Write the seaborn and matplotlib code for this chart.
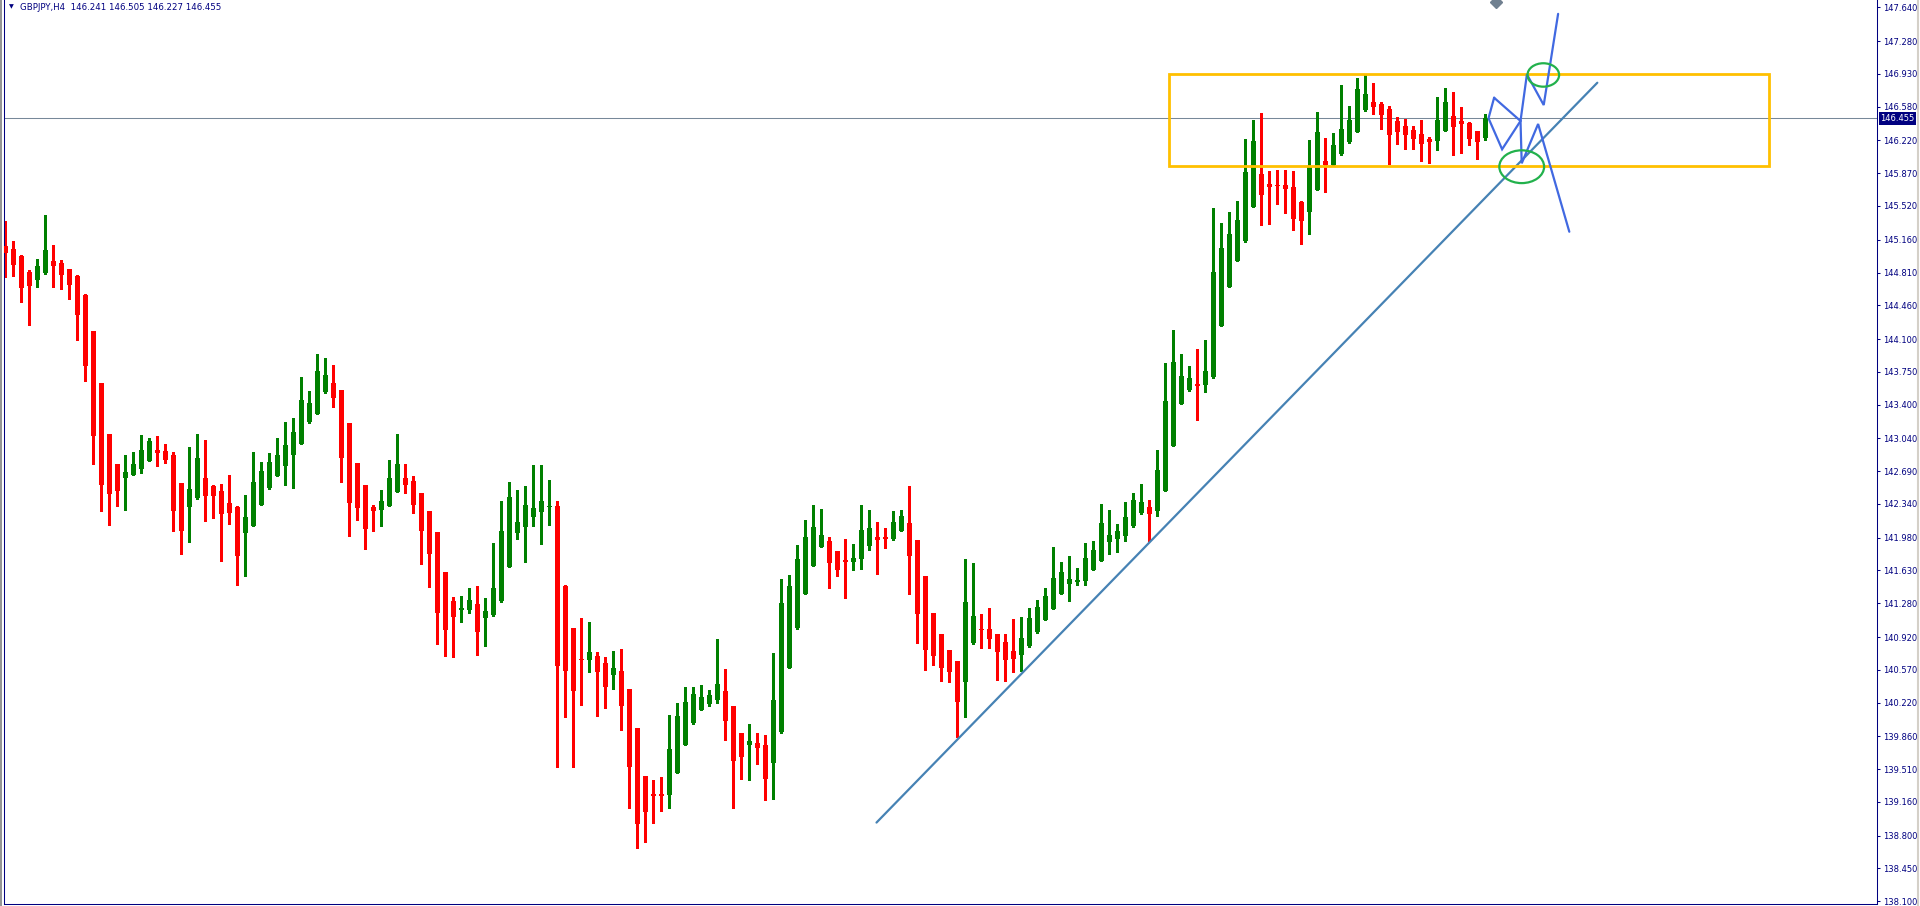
import matplotlib
matplotlib.use("Agg")
import matplotlib.pyplot as plt
import matplotlib.transforms as mtransforms
from matplotlib.lines import Line2D
from matplotlib.patches import Ellipse, Rectangle
import numpy as np
import seaborn as sns

# ---- data (GBPJPY, H4) ----
symbol = "GBPJPY,H4"

opens = [
    145.09, 145.06, 144.99, 144.82, 144.73, 144.80, 144.93, 144.91, 144.85, 144.77,
    144.57, 144.19, 143.63, 143.09, 142.77, 142.62, 142.65, 142.71, 142.80, 142.92,
    142.91, 142.86, 142.56, 142.31, 142.40, 142.62, 142.53, 142.48, 142.35, 142.31,
    142.03, 142.11, 142.33, 142.51, 142.64, 142.75, 142.86, 142.98, 143.21, 143.30,
    143.53, 143.63, 143.56, 143.20, 142.78, 142.54, 142.31, 142.28, 142.32, 142.47,
    142.62, 142.59, 142.46, 142.27, 142.04, 141.61, 141.30, 141.21, 141.21, 141.27,
    141.12, 141.15, 141.30, 141.67, 142.03, 142.09, 142.20, 142.25, 142.31, 142.32,
    141.46, 141.02, 140.69, 140.67, 140.72, 140.64, 140.51, 140.56, 140.37, 139.95,
    139.44, 139.24, 139.24, 139.23, 139.47, 139.77, 140.00, 140.14, 140.21, 140.25,
    140.34, 140.18, 139.90, 139.77, 139.79, 139.77, 139.58, 139.91, 140.59, 141.02,
    141.38, 141.68, 141.88, 141.94, 141.84, 141.74, 141.72, 141.75, 141.89, 141.99,
    141.99, 141.97, 142.05, 142.14, 141.96, 141.57, 141.18, 140.95, 140.78, 140.66,
    140.44, 140.86, 141.01, 141.01, 140.95, 140.87, 140.77, 140.73, 140.82, 140.97,
    141.10, 141.22, 141.38, 141.49, 141.51, 141.52, 141.64, 141.73, 141.93, 141.97,
    142.00, 142.10, 142.24, 142.31, 142.26, 142.48, 142.96, 143.41, 143.56, 143.62,
    143.61, 143.69, 144.24, 144.66, 144.93, 145.15, 145.51, 145.86, 145.75, 145.74,
    145.74, 145.72, 145.56, 145.46, 145.69, 146.00, 145.96, 146.07, 146.20, 146.31,
    146.54, 146.63, 146.61, 146.56, 146.43, 146.37, 146.33, 146.29, 146.24, 146.21,
    146.32, 146.48, 146.43, 146.41, 146.32, 146.241,
]
highs = [
    145.36, 145.15, 145.00, 144.84, 144.95, 145.42, 145.10, 144.94, 144.85, 144.78,
    144.58, 144.19, 143.63, 143.09, 142.77, 142.86, 142.89, 143.08, 143.04, 143.07,
    142.98, 142.89, 142.56, 142.95, 143.09, 143.02, 142.54, 142.55, 142.65, 142.32,
    142.44, 142.89, 142.79, 142.88, 143.04, 143.21, 143.26, 143.70, 143.55, 143.94,
    143.90, 143.82, 143.56, 143.20, 142.78, 142.54, 142.33, 142.49, 142.81, 143.09,
    142.77, 142.64, 142.46, 142.27, 142.04, 141.61, 141.35, 141.36, 141.44, 141.46,
    141.34, 141.92, 142.37, 142.57, 142.49, 142.53, 142.76, 142.76, 142.60, 142.37,
    141.47, 141.02, 141.12, 141.08, 140.76, 140.71, 140.77, 140.79, 140.37, 139.95,
    139.44, 139.39, 139.43, 140.09, 140.22, 140.39, 140.39, 140.41, 140.35, 140.90,
    140.58, 140.18, 139.90, 139.99, 139.90, 139.87, 140.75, 141.54, 141.58, 141.90,
    142.17, 142.33, 142.29, 141.99, 141.84, 141.97, 141.91, 142.33, 142.28, 142.15,
    142.08, 142.27, 142.28, 142.53, 141.96, 141.57, 141.18, 140.95, 140.78, 140.66,
    141.75, 141.71, 141.17, 141.23, 140.95, 140.95, 141.11, 141.13, 141.23, 141.32,
    141.44, 141.88, 141.72, 141.78, 141.66, 141.92, 141.94, 142.34, 142.28, 142.13,
    142.36, 142.46, 142.55, 142.38, 142.92, 143.84, 144.20, 143.94, 143.81, 143.99,
    144.09, 145.50, 145.34, 145.46, 145.57, 146.24, 146.44, 146.51, 145.89, 145.90,
    145.90, 145.89, 145.57, 146.22, 146.52, 146.25, 146.30, 146.81, 146.59, 146.89,
    146.93, 146.83, 146.63, 146.59, 146.47, 146.45, 146.37, 146.44, 146.26, 146.68,
    146.78, 146.74, 146.58, 146.42, 146.32, 146.505,
]
lows = [
    144.76, 144.77, 144.49, 144.25, 144.66, 144.79, 144.65, 144.63, 144.53, 144.09,
    143.65, 142.77, 142.26, 142.12, 142.32, 142.28, 142.65, 142.67, 142.80, 142.75,
    142.78, 142.05, 141.81, 141.93, 142.39, 142.16, 142.19, 141.73, 142.13, 141.47,
    141.57, 142.10, 142.33, 142.50, 142.64, 142.54, 142.51, 142.98, 143.20, 143.30,
    143.52, 143.37, 142.57, 142.00, 142.17, 141.86, 142.05, 142.10, 142.32, 142.47,
    142.46, 142.24, 141.70, 141.45, 140.85, 140.72, 140.71, 141.08, 141.18, 140.73,
    140.82, 141.14, 141.29, 141.67, 141.97, 141.72, 142.10, 141.91, 142.12, 139.53,
    140.07, 139.53, 140.19, 140.55, 140.08, 140.16, 140.37, 139.93, 139.10, 138.67,
    138.73, 138.94, 139.06, 139.10, 139.47, 139.77, 139.99, 140.14, 140.18, 140.22,
    139.82, 139.10, 139.40, 139.39, 139.57, 139.18, 139.19, 139.90, 140.59, 141.01,
    141.38, 141.68, 141.88, 141.44, 141.57, 141.34, 141.63, 141.65, 141.85, 141.59,
    141.87, 141.96, 142.05, 141.38, 140.86, 140.57, 140.62, 140.45, 140.44, 139.85,
    140.07, 140.85, 140.80, 140.80, 140.46, 140.45, 140.55, 140.56, 140.81, 140.96,
    141.10, 141.22, 141.38, 141.30, 141.47, 141.48, 141.63, 141.73, 141.81, 141.83,
    141.95, 142.09, 142.23, 141.95, 142.21, 142.48, 142.96, 143.41, 143.55, 143.24,
    143.53, 143.68, 144.24, 144.65, 144.93, 145.14, 145.51, 145.32, 145.33, 145.54,
    145.45, 145.26, 145.11, 145.22, 145.69, 145.67, 145.95, 146.06, 146.19, 146.31,
    146.53, 146.50, 146.34, 145.97, 146.18, 146.13, 146.13, 146.00, 145.98, 146.12,
    146.32, 146.06, 146.08, 146.17, 146.02, 146.227,
]
closes = [
    145.02, 144.89, 144.64, 144.67, 144.88, 145.05, 144.88, 144.78, 144.68, 144.36,
    143.81, 143.07, 142.54, 142.45, 142.48, 142.68, 142.77, 142.92, 143.01, 142.88,
    142.81, 142.27, 142.05, 142.50, 142.83, 142.43, 142.42, 142.23, 142.24, 141.78,
    142.20, 142.57, 142.69, 142.79, 142.86, 142.97, 143.11, 143.45, 143.42, 143.76,
    143.72, 143.47, 142.83, 142.35, 142.30, 142.07, 142.26, 142.37, 142.62, 142.77,
    142.54, 142.33, 142.05, 141.81, 141.18, 140.99, 141.13, 141.23, 141.32, 140.97,
    141.20, 141.44, 142.05, 142.41, 142.15, 142.33, 142.30, 142.37, 142.32, 140.61,
    140.56, 140.34, 140.67, 140.76, 140.55, 140.39, 140.59, 140.18, 139.53, 138.92,
    139.05, 139.22, 139.22, 139.73, 140.08, 140.23, 140.31, 140.28, 140.30, 140.42,
    140.02, 139.60, 139.64, 139.81, 139.74, 139.40, 140.25, 141.28, 141.46, 141.75,
    141.99, 142.09, 142.01, 141.71, 141.64, 141.72, 141.76, 142.06, 142.08, 141.96,
    141.97, 142.15, 142.21, 141.78, 141.17, 140.78, 140.72, 140.59, 140.55, 140.23,
    141.29, 141.14, 140.99, 140.90, 140.76, 140.68, 140.69, 140.91, 141.12, 141.24,
    141.36, 141.55, 141.61, 141.54, 141.53, 141.76, 141.85, 142.14, 142.01, 142.05,
    142.20, 142.38, 142.36, 142.23, 142.70, 143.44, 143.86, 143.71, 143.68, 143.60,
    143.76, 144.82, 145.07, 145.22, 145.37, 145.88, 146.21, 145.64, 145.72, 145.73,
    145.70, 145.38, 145.36, 145.95, 146.31, 145.96, 146.17, 146.34, 146.44, 146.77,
    146.72, 146.58, 146.49, 146.28, 146.31, 146.28, 146.24, 146.18, 146.20, 146.44,
    146.63, 146.36, 146.39, 146.23, 146.20, 146.455,
]

price_ticks = [147.640, 147.280, 146.930, 146.580, 146.220, 145.870, 145.520,
               145.160, 144.810, 144.460, 144.100, 143.750, 143.400, 143.040,
               142.690, 142.340, 141.980, 141.630, 141.280, 140.920, 140.570,
               140.220, 139.860, 139.510, 139.160, 138.800, 138.450, 138.100]
bid_price = 146.455

# drawn objects: (bar index, price)
trend_bars = [108.9, 199.0]
trend_prices = [138.94, 146.835]
box_bars = [145.5, 220.4]
box_prices = [145.943, 146.925]
zig_a_bars = [186.1, 185.4, 187.1, 189.4, 186.1]
zig_a_prices = [146.675, 146.456, 146.125, 146.427, 146.675]
zig_b_bars = [189.4, 189.55, 191.6, 195.5]
zig_b_prices = [146.427, 145.975, 146.395, 145.245]
zig_c_bars = [189.4, 190.2, 192.3, 194.1]
zig_c_prices = [146.427, 146.925, 146.597, 147.57]
circle_bars = [189.55, 192.25]
circle_prices = [145.939, 146.918]
marker_bar = 186.3
marker_price = 147.70

# ---- style ----
sns.set_theme(style="white")
plt.rcParams["font.family"] = ["DejaVu Sans"]

NAVY = "#000080"
UP = "#008000"
DOWN = "#FF0000"

W, H = 1920, 906
fig = plt.figure(figsize=(W / 100, H / 100), dpi=100)
fig.patch.set_facecolor("white")
ax = fig.add_axes([4 / W, 2 / H, 1873 / W, 904 / H])
ax.set_facecolor("white")

o = np.array(opens)
h = np.array(highs)
l = np.array(lows)
c = np.array(closes)
x = np.arange(len(o))
up = c >= o
wick_colors = np.where(up, UP, DOWN)

ax.vlines(x, l, h, colors=wick_colors, linewidth=0.75, antialiased=False, zorder=2)
body = np.maximum(np.abs(c - o), 0.011)
ax.bar(x[up], body[up], bottom=o[up], width=0.62, color=UP, linewidth=0,
       antialiased=False, zorder=3)
ax.bar(x[~up], body[~up], bottom=c[~up], width=0.62, color=DOWN, linewidth=0,
       antialiased=False, zorder=3)

# bid line
ax.axhline(bid_price, color="#778899", linewidth=0.75, zorder=1)

# trendline and drawings
ax.plot(trend_bars, trend_prices, color="#4682B4", linewidth=1.6, zorder=4)
ax.add_patch(Rectangle((box_bars[0], box_prices[0]), box_bars[1] - box_bars[0],
                       box_prices[1] - box_prices[0], fill=False,
                       edgecolor="#FFC000", linewidth=2.0, zorder=4))
for bx, by in [(zig_a_bars, zig_a_prices), (zig_b_bars, zig_b_prices),
               (zig_c_bars, zig_c_prices)]:
    ax.plot(bx, by, color="#4169E1", linewidth=1.6, zorder=5,
            solid_joinstyle="miter")
ax.add_patch(Ellipse((circle_bars[0], circle_prices[0]), 5.6, 0.35, fill=False,
                     edgecolor="#22B14C", linewidth=1.6, zorder=6))
ax.add_patch(Ellipse((circle_bars[1], circle_prices[1]), 3.95, 0.25, fill=False,
                     edgecolor="#22B14C", linewidth=1.6, zorder=6))
ax.plot([marker_bar], [marker_price], marker="D", markersize=6,
        color="#708090", zorder=6, clip_on=True)

ax.set_xlim(-0.16, 233.96)
ax.set_ylim(138.071, 147.718)
ax.set_xticks([])

ax.yaxis.tick_right()
ax.set_yticks(price_ticks)
ax.set_yticklabels([f"{t:.3f}" for t in price_ticks])
ax.tick_params(axis="y", colors=NAVY, labelsize=6, length=2.5, width=0.75,
               pad=2, direction="out", right=True, left=False)
for side in ["left", "right", "bottom"]:
    ax.spines[side].set_visible(True)
    ax.spines[side].set_color(NAVY)
    ax.spines[side].set_linewidth(0.75)
ax.spines["top"].set_visible(False)

# current price label on the axis
trans = mtransforms.blended_transform_factory(ax.transAxes, ax.transData)
ax.text(1.0018, bid_price, f"{bid_price:.3f}", transform=trans, color="white",
        fontsize=6, va="center", ha="left", zorder=10, clip_on=False,
        bbox=dict(facecolor=NAVY, edgecolor="none", pad=1.2))

# title
fig.text(9 / W, 1 - 7 / H, "\u25bc", color=NAVY, fontsize=4.5, va="center", ha="left")
fig.text(20 / W, 1 - 7 / H,
         f"{symbol}  {opens[-1]:.3f} {highs[-1]:.3f} {lows[-1]:.3f} {closes[-1]:.3f}",
         color=NAVY, fontsize=6.2, va="center", ha="left")

# window edges
fig.add_artist(Line2D([1 / W, 1 / W], [0, 1], color="#808080", linewidth=1.2))
fig.add_artist(Line2D([1918 / W, 1918 / W], [0, 1], color="#D4D0C8", linewidth=1.5))

fig.savefig("out.png", dpi=100, facecolor="white")
